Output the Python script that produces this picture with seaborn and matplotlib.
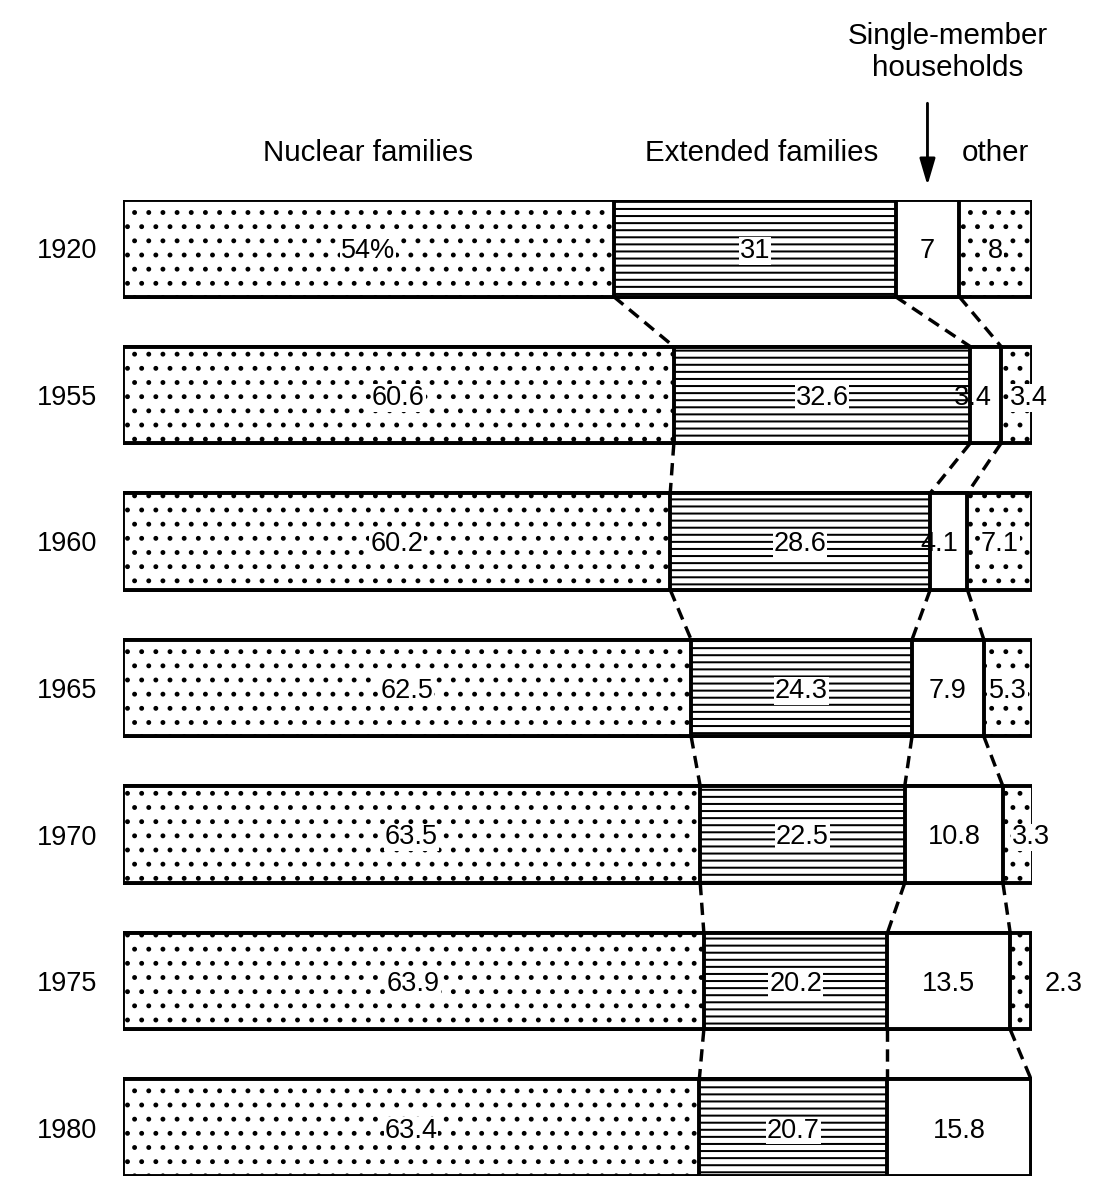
import numpy as np
import pandas as pd
import matplotlib
matplotlib.use("Agg")
import matplotlib.pyplot as plt
import seaborn as sns

# household composition (%)
years = ["1920", "1955", "1960", "1965", "1970", "1975", "1980"]
nuclear = [54, 60.6, 60.2, 62.5, 63.5, 63.9, 63.4]
extended = [31, 32.6, 28.6, 24.3, 22.5, 20.2, 20.7]
single = [7, 3.4, 4.1, 7.9, 10.8, 13.5, 15.8]
other = [8, 3.4, 7.1, 5.3, 3.3, 2.3, 0.0]

sns.set_style("white")
plt.rcParams["font.family"] = ["Liberation Sans", "DejaVu Sans"]
plt.rcParams["hatch.linewidth"] = 1.7
plt.rcParams["text.color"] = "black"
plt.rcParams["ytick.color"] = "black"
plt.rcParams["ytick.labelcolor"] = "black"

DPI = 85
fig = plt.figure(figsize=(1095 / DPI, 1181 / DPI), dpi=DPI)
ax = fig.add_axes([123 / 1095, 5 / 1181, 909 / 1095, 976 / 1181])

df = pd.DataFrame({"year": years, "nuclear": nuclear, "extended": extended,
                   "single": single, "other": other})
df["c1"] = df["nuclear"]
df["c2"] = df["c1"] + df["extended"]
df["c3"] = df["c2"] + df["single"]
df["c4"] = df["c3"] + df["other"]

BAR_H = 0.66
EDGE = 3.3

# draw cumulative totals widest first, so each layer covers the previous one
layers = [("c4", "."), ("c3", ""), ("c2", "--"), ("c1", ".")]
for col, hatch in layers:
    n0 = len(ax.patches)
    sns.barplot(data=df, x=col, y="year", order=years, orient="h", ax=ax,
                color="white", saturation=1, edgecolor="black", linewidth=EDGE,
                width=BAR_H, errorbar=None)
    for p in ax.patches[n0:]:
        p.set_hatch(hatch)
        p.set_facecolor("white")

# dashed connectors between matching boundaries of neighbouring bars
for col in ["c1", "c2", "c3"]:
    vals = df[col].values
    for i in range(len(years) - 1):
        ax.plot([vals[i], vals[i + 1]], [i + BAR_H / 2, i + 1 - BAR_H / 2],
                color="black", lw=2.9, ls=(0, (3.6, 2.2)), clip_on=False,
                solid_capstyle="butt", zorder=1)

# value labels
box = dict(facecolor="white", edgecolor="none", pad=0.6)
fs = 23
for i, row in df.iterrows():
    y = i + 0.02
    ax.text(row["c1"] / 2, y, f"{row['nuclear']:g}" + ("%" if i == 0 else ""),
            ha="center", va="center", fontsize=fs, bbox=box, zorder=5)
    ax.text((row["c1"] + row["c2"]) / 2, y, f"{row['extended']:g}",
            ha="center", va="center", fontsize=fs, bbox=box, zorder=5)
    if row["single"] < 5:
        ax.text(row["c3"] - 1.0, y, f"{row['single']:g}", ha="right",
                va="center", fontsize=fs, zorder=5)
    else:
        ax.text((row["c2"] + row["c3"]) / 2, y, f"{row['single']:g}",
                ha="center", va="center", fontsize=fs, zorder=5)
    if row["other"] <= 0:
        continue
    if row["other"] < 3:
        ax.text(row["c4"] + 1.5, y, f"{row['other']:g}", ha="left",
                va="center", fontsize=fs, zorder=5, clip_on=False)
    elif row["other"] < 5:
        ax.text(row["c3"] + 1.0, y, f"{row['other']:g}", ha="left",
                va="center", fontsize=fs, bbox=box, zorder=5, clip_on=False)
    else:
        ax.text((row["c3"] + row["c4"]) / 2, y, f"{row['other']:g}",
                ha="center", va="center", fontsize=fs, bbox=box, zorder=5)

# column headers above the 1920 bar
r0 = df.iloc[0]
hy = -0.65
hfs = 25
ax.text(r0["c1"] / 2, hy, "Nuclear families", ha="center", va="center",
        fontsize=hfs, clip_on=False)
ax.text((r0["c1"] + r0["c2"]) / 2 + 0.8, hy, "Extended families", ha="center",
        va="center", fontsize=hfs, clip_on=False)
ax.text((r0["c3"] + r0["c4"]) / 2, hy, "other", ha="center", va="center",
        fontsize=hfs, clip_on=False)
sx = (r0["c2"] + r0["c3"]) / 2
ax.annotate("Single-member\nhouseholds", xy=(sx, -1.34), xytext=(17, 0),
            textcoords="offset points", ha="center", va="center",
            fontsize=hfs, linespacing=1.15, annotation_clip=False)
ax.annotate("", xy=(sx, -0.43), xytext=(sx, -0.99), annotation_clip=False,
            arrowprops=dict(arrowstyle="-|>,head_length=0.95,head_width=0.28",
                            color="black", lw=2.4, mutation_scale=20,
                            shrinkA=0, shrinkB=0))

ax.set_xlim(0, 100)
ax.set_ylim(len(years) - 1 + BAR_H / 2, -BAR_H / 2)
ax.set_xlabel("")
ax.set_ylabel("")
ax.set_xticks([])
ax.tick_params(axis="y", length=0, pad=22, labelsize=fs, labelcolor="black")
sns.despine(ax=ax, left=True, bottom=True)

fig.savefig("out.png", dpi=DPI)
